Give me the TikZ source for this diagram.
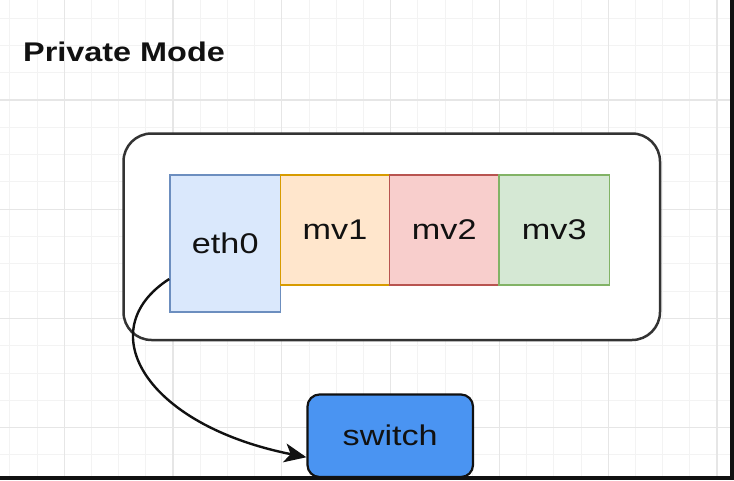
\documentclass[tikz,border=0pt]{standalone}
\usepackage{fontspec}
\setmainfont{Liberation Sans}[FakeStretch=1.2]
\usetikzlibrary{arrows.meta}
\definecolor{ethfill}{HTML}{DAE8FC}
\definecolor{ethline}{HTML}{6C8EBF}
\definecolor{mvafill}{HTML}{FFE6CC}
\definecolor{mvaline}{HTML}{D79B00}
\definecolor{mvbfill}{HTML}{F8CECC}
\definecolor{mvbline}{HTML}{B85450}
\definecolor{mvcfill}{HTML}{D5E8D4}
\definecolor{mvcline}{HTML}{82B366}
\definecolor{swfill}{HTML}{4A94F2}
\definecolor{txt}{HTML}{111111}
\definecolor{minorgrid}{HTML}{F3F3F3}
\definecolor{majorgrid}{HTML}{E6E6E6}
\definecolor{bar}{HTML}{111111}
\begin{document}
\begin{tikzpicture}[x=1pt,y=-1pt,
  minorline/.style={draw=minorgrid,line width=1pt},
  majorline/.style={draw=majorgrid,line width=1.2pt},
  titletext/.style={font=\fontsize{27}{30}\selectfont\bfseries,text=txt,inner sep=0pt},
  ifbox/.style={draw,line width=1.6pt,font=\fontsize{28.5}{30}\selectfont,text=txt,inner sep=0pt},
  hostbox/.style={draw=black!80,line width=2.5pt,fill=white,rounded corners=28pt,inner sep=0pt},
  switchbox/.style={draw=bar,line width=2.2pt,fill=swfill,rounded corners=12pt,inner sep=0pt,font=\fontsize{28.5}{30}\selectfont,text=txt},
  conn/.style={draw=bar,line width=2.4pt,-{Stealth[length=22pt,width=19pt,inset=6pt]}}
]
\useasboundingbox (0,0) rectangle (734,480);
\fill[white] (0,0) rectangle (734,480);
% grid
\foreach \k in {0,...,26}
  \draw[minorline] ({717-27.2*\k},0) -- ({717-27.2*\k},480);
\foreach \k in {-3,...,13}
  \draw[minorline] (0,{100+27.3*\k}) -- (734,{100+27.3*\k});
\foreach \k in {0,4,...,24}
  \draw[majorline] ({717-27.2*\k},0) -- ({717-27.2*\k},480);
\foreach \k in {0,4,8,12}
  \draw[majorline] (0,{100+27.3*\k}) -- (734,{100+27.3*\k});
% title
\node[titletext,anchor=base west] (title) at (23,61.5) {Private Mode};
% host
\node[hostbox,minimum width=536.5pt,minimum height=206.5pt] (host) at (391.75,236.75) {};
% interfaces
\node[ifbox,draw=ethline,fill=ethfill,minimum width=110.5pt,minimum height=137pt] (eth0) at (225.25,243.5) {eth0};
\node[ifbox,draw=mvaline,fill=mvafill,minimum width=109pt,minimum height=110pt] (mv1) at (335,230) {mv1};
\node[ifbox,draw=mvbline,fill=mvbfill,minimum width=109.5pt,minimum height=110pt] (mv2) at (444.25,230) {mv2};
\node[ifbox,draw=mvcline,fill=mvcfill,minimum width=110.5pt,minimum height=110pt] (mv3) at (554.25,230) {mv3};
% switch
\node[switchbox,minimum width=165.5pt,minimum height=82.5pt] (switch) at (390.25,435.75) {switch};
% connector
\draw[conn] ([yshift=-35.5pt]eth0.west) .. controls (90,330) and (145,425) .. ([yshift=-21.5pt]switch.west);
% screenshot border bars
\fill[bar] (730,0) rectangle (734,480);
\fill[bar] (0,476) rectangle (734,480);
\end{tikzpicture}
\end{document}
